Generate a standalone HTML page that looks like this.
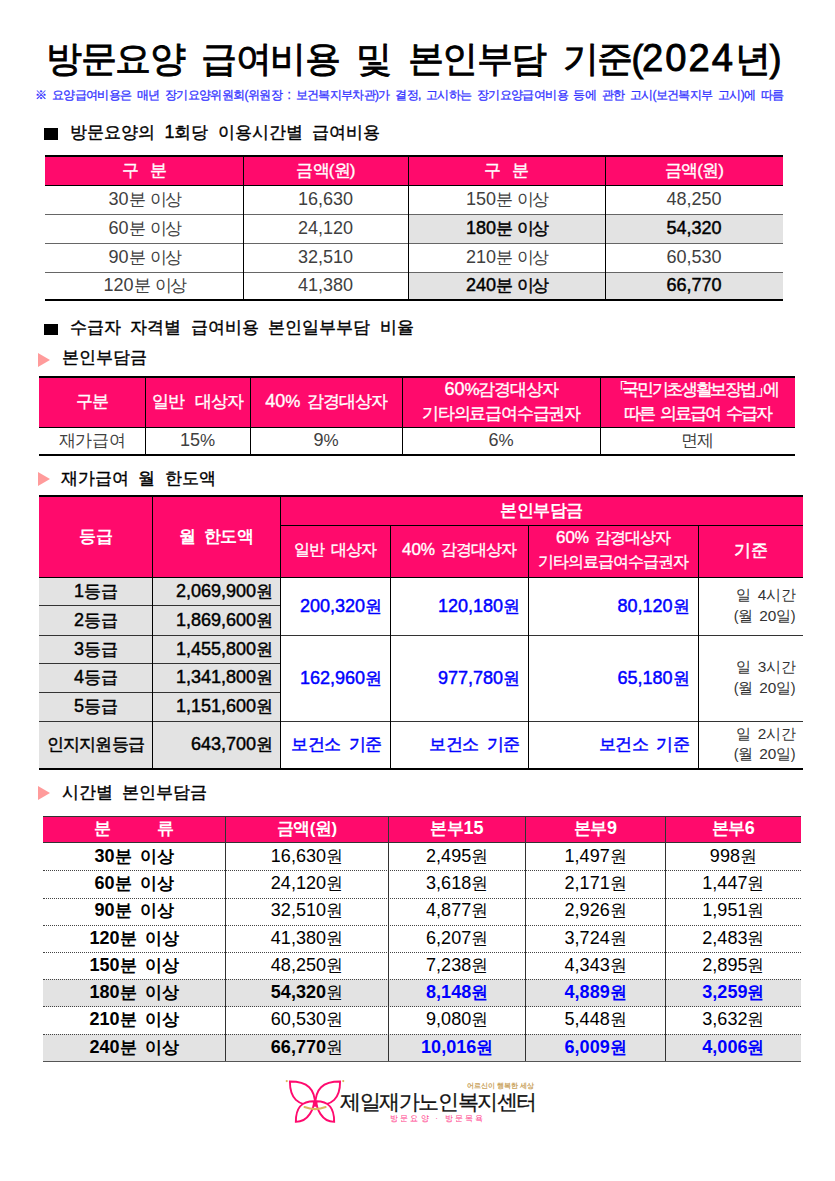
<!DOCTYPE html>
<html><head><meta charset="utf-8"><style>
html,body{margin:0;padding:0;background:#fff;width:835px;height:1181px;overflow:hidden}
body{position:relative;font-family:"Liberation Sans",sans-serif}
.r{position:absolute}
.t{position:absolute;white-space:nowrap}
.d{font-size:1.06em;letter-spacing:0}
</style></head><body>
<div class="t" style="left:46px;top:39.56px;width:789px;font-size:36px;line-height:36px;text-align:left;color:#000;letter-spacing:-1.5px;-webkit-text-stroke:0.9px #000">방문요양&nbsp; 급여비용&nbsp; 및&nbsp; 본인부담&nbsp; 기준(<span style="font-size:1.06em;letter-spacing:2px">2024</span>년)</div>
<div class="t" style="left:35px;top:89.02px;width:765px;font-size:12px;line-height:12px;text-align:left;color:#3333ff;letter-spacing:-0.63px;-webkit-text-stroke:0.3px #3333ff">※&nbsp; 요양급여비용은&nbsp; 매년&nbsp; 장기요양위원회(위원장&nbsp; :&nbsp; 보건복지부차관)가&nbsp; 결정,&nbsp; 고시하는&nbsp; 장기요양급여비용&nbsp; 등에&nbsp; 관한&nbsp; 고시(보건복지부&nbsp; 고시)에&nbsp; 따름</div>
<div class="r" style="left:44px;top:127.5px;width:13.5px;height:12.0px;background:#000"></div>
<div class="t" style="left:70px;top:124.32px;width:430px;font-size:17px;line-height:17px;text-align:left;color:#000;-webkit-text-stroke:0.4px #000">방문요양의&nbsp; <span class="d">1</span>회당&nbsp; 이용시간별&nbsp; 급여비용</div>
<div class="r" style="left:45px;top:157px;width:738px;height:28px;background:#ff0a6c"></div>
<div class="r" style="left:408px;top:214px;width:375px;height:29px;background:#e3e3e3"></div>
<div class="r" style="left:408px;top:272px;width:375px;height:28px;background:#e3e3e3"></div>
<div class="r" style="left:45px;top:155px;width:738px;height:2px;background:#000"></div>
<div class="r" style="left:45px;top:185px;width:738px;height:1px;background:#000"></div>
<div class="r" style="left:45px;top:214px;width:738px;height:1px;background:#666"></div>
<div class="r" style="left:45px;top:243px;width:738px;height:1px;background:#666"></div>
<div class="r" style="left:45px;top:272px;width:738px;height:1px;background:#666"></div>
<div class="r" style="left:45px;top:299px;width:738px;height:2px;background:#000"></div>
<div class="r" style="left:243px;top:157px;width:1px;height:143px;background:#000"></div>
<div class="r" style="left:408px;top:157px;width:1px;height:143px;background:#000"></div>
<div class="r" style="left:605px;top:157px;width:1px;height:143px;background:#000"></div>
<div class="t" style="left:45px;top:161.82px;width:198px;font-size:17px;line-height:17px;text-align:center;color:#fff;letter-spacing:-0.8px;-webkit-text-stroke:0.35px #fff">구&nbsp;&nbsp; 분</div>
<div class="t" style="left:243px;top:161.82px;width:165px;font-size:17px;line-height:17px;text-align:center;color:#fff;letter-spacing:-0.8px;-webkit-text-stroke:0.35px #fff">금액(원)</div>
<div class="t" style="left:408px;top:161.82px;width:197px;font-size:17px;line-height:17px;text-align:center;color:#fff;letter-spacing:-0.8px;-webkit-text-stroke:0.35px #fff">구&nbsp;&nbsp; 분</div>
<div class="t" style="left:605px;top:161.82px;width:178px;font-size:17px;line-height:17px;text-align:center;color:#fff;letter-spacing:-0.8px;-webkit-text-stroke:0.35px #fff">금액(원)</div>
<div class="t" style="left:45px;top:190.82px;width:198px;font-size:17px;line-height:17px;text-align:center;color:#404040;letter-spacing:-2px"><span class="d">30</span>분<span style="display:inline-block;width:6px"></span>이상</div>
<div class="t" style="left:243px;top:190.82px;width:165px;font-size:17px;line-height:17px;text-align:center;color:#404040;letter-spacing:-2px"><span class="d">16,630</span></div>
<div class="t" style="left:408px;top:190.82px;width:197px;font-size:17px;line-height:17px;text-align:center;color:#404040;letter-spacing:-2px"><span class="d">150</span>분<span style="display:inline-block;width:6px"></span>이상</div>
<div class="t" style="left:605px;top:190.82px;width:178px;font-size:17px;line-height:17px;text-align:center;color:#404040;letter-spacing:-2px"><span class="d">48,250</span></div>
<div class="t" style="left:45px;top:219.82px;width:198px;font-size:17px;line-height:17px;text-align:center;color:#404040;letter-spacing:-2px"><span class="d">60</span>분<span style="display:inline-block;width:6px"></span>이상</div>
<div class="t" style="left:243px;top:219.82px;width:165px;font-size:17px;line-height:17px;text-align:center;color:#404040;letter-spacing:-2px"><span class="d">24,120</span></div>
<div class="t" style="left:408px;top:219.82px;width:197px;font-size:17px;line-height:17px;text-align:center;color:#000;letter-spacing:-2px;-webkit-text-stroke:0.45px #000"><span class="d">180</span>분<span style="display:inline-block;width:6px"></span>이상</div>
<div class="t" style="left:605px;top:219.82px;width:178px;font-size:17px;line-height:17px;text-align:center;color:#000;letter-spacing:-2px;-webkit-text-stroke:0.45px #000"><span class="d">54,320</span></div>
<div class="t" style="left:45px;top:248.82px;width:198px;font-size:17px;line-height:17px;text-align:center;color:#404040;letter-spacing:-2px"><span class="d">90</span>분<span style="display:inline-block;width:6px"></span>이상</div>
<div class="t" style="left:243px;top:248.82px;width:165px;font-size:17px;line-height:17px;text-align:center;color:#404040;letter-spacing:-2px"><span class="d">32,510</span></div>
<div class="t" style="left:408px;top:248.82px;width:197px;font-size:17px;line-height:17px;text-align:center;color:#404040;letter-spacing:-2px"><span class="d">210</span>분<span style="display:inline-block;width:6px"></span>이상</div>
<div class="t" style="left:605px;top:248.82px;width:178px;font-size:17px;line-height:17px;text-align:center;color:#404040;letter-spacing:-2px"><span class="d">60,530</span></div>
<div class="t" style="left:45px;top:277.32px;width:198px;font-size:17px;line-height:17px;text-align:center;color:#404040;letter-spacing:-2px"><span class="d">120</span>분<span style="display:inline-block;width:6px"></span>이상</div>
<div class="t" style="left:243px;top:277.32px;width:165px;font-size:17px;line-height:17px;text-align:center;color:#404040;letter-spacing:-2px"><span class="d">41,380</span></div>
<div class="t" style="left:408px;top:277.32px;width:197px;font-size:17px;line-height:17px;text-align:center;color:#000;letter-spacing:-2px;-webkit-text-stroke:0.45px #000"><span class="d">240</span>분<span style="display:inline-block;width:6px"></span>이상</div>
<div class="t" style="left:605px;top:277.32px;width:178px;font-size:17px;line-height:17px;text-align:center;color:#000;letter-spacing:-2px;-webkit-text-stroke:0.45px #000"><span class="d">66,770</span></div>
<div class="r" style="left:44px;top:323.5px;width:13.5px;height:11.5px;background:#000"></div>
<div class="t" style="left:70px;top:319.32px;width:530px;font-size:17px;line-height:17px;text-align:left;color:#000;-webkit-text-stroke:0.4px #000">수급자&nbsp; 자격별&nbsp; 급여비용&nbsp; 본인일부부담&nbsp; 비율</div>
<svg class="r" style="left:38px;top:352.5px" width="13" height="14" viewBox="0 0 13 14"><polygon points="0,0 12,7 0,14" fill="#ff9b9b"/></svg>
<div class="t" style="left:62px;top:349.32px;width:338px;font-size:17px;line-height:17px;text-align:left;color:#000;-webkit-text-stroke:0.4px #000">본인부담금</div>
<div class="r" style="left:39px;top:378px;width:756px;height:49px;background:#ff0a6c"></div>
<div class="r" style="left:39px;top:376px;width:756px;height:2px;background:#000"></div>
<div class="r" style="left:39px;top:427px;width:756px;height:1px;background:#000"></div>
<div class="r" style="left:39px;top:454px;width:756px;height:2px;background:#000"></div>
<div class="r" style="left:145px;top:378px;width:1px;height:76px;background:#000"></div>
<div class="r" style="left:250px;top:378px;width:1px;height:76px;background:#000"></div>
<div class="r" style="left:402px;top:378px;width:1px;height:76px;background:#000"></div>
<div class="r" style="left:600px;top:378px;width:1px;height:76px;background:#000"></div>
<div class="t" style="left:39px;top:392.82px;width:106px;font-size:17px;line-height:17px;text-align:center;color:#fff;letter-spacing:-1px;-webkit-text-stroke:0.35px #fff">구분</div>
<div class="t" style="left:145px;top:392.82px;width:105px;font-size:17px;line-height:17px;text-align:center;color:#fff;letter-spacing:-1px;-webkit-text-stroke:0.35px #fff">일반&nbsp;&nbsp; 대상자</div>
<div class="t" style="left:250px;top:392.82px;width:152px;font-size:17px;line-height:17px;text-align:center;color:#fff;letter-spacing:-1px;-webkit-text-stroke:0.35px #fff"><span class="d">40</span>%&nbsp; 감경대상자</div>
<div class="t" style="left:402px;top:380.82px;width:198px;font-size:17px;line-height:17px;text-align:center;color:#fff;letter-spacing:-1.2px;-webkit-text-stroke:0.35px #fff"><span class="d">60</span>%감경대상자</div>
<div class="t" style="left:402px;top:404.82px;width:198px;font-size:17px;line-height:17px;text-align:center;color:#fff;letter-spacing:-1.2px;-webkit-text-stroke:0.35px #fff">기타의료급여수급권자</div>
<div class="t" style="left:600px;top:380.82px;width:195px;font-size:17px;line-height:17px;text-align:center;color:#fff;letter-spacing:-2.3px;-webkit-text-stroke:0.35px #fff;padding-right:1px;box-sizing:border-box"><span style="margin-left:-6px;letter-spacing:-5.5px">「</span>국민기초생활보장법<span style="letter-spacing:-9px">」</span>에</div>
<div class="t" style="left:600px;top:404.82px;width:195px;font-size:17px;line-height:17px;text-align:center;color:#fff;letter-spacing:-1.9px;-webkit-text-stroke:0.35px #fff">따른&nbsp; 의료급여&nbsp; 수급자</div>
<div class="t" style="left:39px;top:431.82px;width:106px;font-size:17px;line-height:17px;text-align:center;color:#404040;letter-spacing:-0.3px">재가급여</div>
<div class="t" style="left:145px;top:431.82px;width:105px;font-size:17px;line-height:17px;text-align:center;color:#404040;letter-spacing:-0.3px"><span class="d">15</span>%</div>
<div class="t" style="left:250px;top:431.82px;width:152px;font-size:17px;line-height:17px;text-align:center;color:#404040;letter-spacing:-0.3px"><span class="d">9</span>%</div>
<div class="t" style="left:402px;top:431.82px;width:198px;font-size:17px;line-height:17px;text-align:center;color:#404040;letter-spacing:-0.3px"><span class="d">6</span>%</div>
<div class="t" style="left:600px;top:431.82px;width:195px;font-size:17px;line-height:17px;text-align:center;color:#404040;letter-spacing:-0.3px">면제</div>
<svg class="r" style="left:38px;top:472px" width="13" height="14" viewBox="0 0 13 14"><polygon points="0,0 12,7 0,14" fill="#ff9b9b"/></svg>
<div class="t" style="left:61px;top:469.82px;width:339px;font-size:17px;line-height:17px;text-align:left;color:#000;-webkit-text-stroke:0.4px #000">재가급여&nbsp; 월&nbsp; 한도액</div>
<div class="r" style="left:39px;top:497px;width:764px;height:80px;background:#ff0a6c"></div>
<div class="r" style="left:39px;top:577px;width:241px;height:191px;background:#e3e3e3"></div>
<div class="r" style="left:39px;top:495px;width:764px;height:2px;background:#000"></div>
<div class="r" style="left:280px;top:525px;width:523px;height:1px;background:#000"></div>
<div class="r" style="left:39px;top:577px;width:764px;height:1px;background:#000"></div>
<div class="r" style="left:39px;top:605px;width:241px;height:1px;background:#333"></div>
<div class="r" style="left:39px;top:663px;width:241px;height:1px;background:#333"></div>
<div class="r" style="left:39px;top:692px;width:241px;height:1px;background:#333"></div>
<div class="r" style="left:39px;top:635px;width:764px;height:1px;background:#333"></div>
<div class="r" style="left:39px;top:721px;width:764px;height:1px;background:#333"></div>
<div class="r" style="left:39px;top:768px;width:764px;height:2px;background:#000"></div>
<div class="r" style="left:152px;top:497px;width:1px;height:271px;background:#000"></div>
<div class="r" style="left:280px;top:497px;width:1px;height:271px;background:#000"></div>
<div class="r" style="left:390px;top:526px;width:1px;height:242px;background:#000"></div>
<div class="r" style="left:528px;top:526px;width:1px;height:242px;background:#000"></div>
<div class="r" style="left:698px;top:526px;width:1px;height:242px;background:#000"></div>
<div class="t" style="left:39px;top:527.82px;width:113px;font-size:17px;line-height:17px;text-align:center;color:#fff;font-weight:bold;letter-spacing:-0.5px">등급</div>
<div class="t" style="left:152px;top:527.82px;width:128px;font-size:17px;line-height:17px;text-align:center;color:#fff;font-weight:bold;letter-spacing:-0.5px">월&nbsp; 한도액</div>
<div class="t" style="left:280px;top:501.82px;width:523px;font-size:17px;line-height:17px;text-align:center;color:#fff;font-weight:bold;letter-spacing:-0.5px">본인부담금</div>
<div class="t" style="left:280px;top:542.36px;width:110px;font-size:16px;line-height:16px;text-align:center;color:#fff;letter-spacing:-1px;-webkit-text-stroke:0.35px #fff">일반&nbsp; 대상자</div>
<div class="t" style="left:390px;top:542.36px;width:138px;font-size:16px;line-height:16px;text-align:center;color:#fff;letter-spacing:-1px;-webkit-text-stroke:0.35px #fff"><span class="d">40</span>%&nbsp; 감경대상자</div>
<div class="t" style="left:528px;top:530.36px;width:170px;font-size:16px;line-height:16px;text-align:center;color:#fff;letter-spacing:-1px;-webkit-text-stroke:0.35px #fff"><span class="d">60</span>%&nbsp; 감경대상자</div>
<div class="t" style="left:528px;top:554.36px;width:170px;font-size:16px;line-height:16px;text-align:center;color:#fff;letter-spacing:-1.1px;-webkit-text-stroke:0.35px #fff">기타의료급여수급권자</div>
<div class="t" style="left:698px;top:541.82px;width:105px;font-size:17px;line-height:17px;text-align:center;color:#fff;letter-spacing:-0.5px;-webkit-text-stroke:0.5px #fff">기준</div>
<div class="t" style="left:39px;top:582.82px;width:113px;font-size:17px;line-height:17px;text-align:center;color:#000;letter-spacing:-0.5px;-webkit-text-stroke:0.45px #000"><span class="d">1</span>등급</div>
<div class="t" style="left:152px;top:582.82px;width:128px;font-size:17px;line-height:17px;text-align:right;color:#000;letter-spacing:-0.1px;padding-right:7px;box-sizing:border-box;-webkit-text-stroke:0.45px #000"><span class="d">2,069,900</span>원</div>
<div class="t" style="left:39px;top:611.82px;width:113px;font-size:17px;line-height:17px;text-align:center;color:#000;letter-spacing:-0.5px;-webkit-text-stroke:0.45px #000"><span class="d">2</span>등급</div>
<div class="t" style="left:152px;top:611.82px;width:128px;font-size:17px;line-height:17px;text-align:right;color:#000;letter-spacing:-0.1px;padding-right:7px;box-sizing:border-box;-webkit-text-stroke:0.45px #000"><span class="d">1,869,600</span>원</div>
<div class="t" style="left:39px;top:640.82px;width:113px;font-size:17px;line-height:17px;text-align:center;color:#000;letter-spacing:-0.5px;-webkit-text-stroke:0.45px #000"><span class="d">3</span>등급</div>
<div class="t" style="left:152px;top:640.82px;width:128px;font-size:17px;line-height:17px;text-align:right;color:#000;letter-spacing:-0.1px;padding-right:7px;box-sizing:border-box;-webkit-text-stroke:0.45px #000"><span class="d">1,455,800</span>원</div>
<div class="t" style="left:39px;top:669.32px;width:113px;font-size:17px;line-height:17px;text-align:center;color:#000;letter-spacing:-0.5px;-webkit-text-stroke:0.45px #000"><span class="d">4</span>등급</div>
<div class="t" style="left:152px;top:669.32px;width:128px;font-size:17px;line-height:17px;text-align:right;color:#000;letter-spacing:-0.1px;padding-right:7px;box-sizing:border-box;-webkit-text-stroke:0.45px #000"><span class="d">1,341,800</span>원</div>
<div class="t" style="left:39px;top:698.32px;width:113px;font-size:17px;line-height:17px;text-align:center;color:#000;letter-spacing:-0.5px;-webkit-text-stroke:0.45px #000"><span class="d">5</span>등급</div>
<div class="t" style="left:152px;top:698.32px;width:128px;font-size:17px;line-height:17px;text-align:right;color:#000;letter-spacing:-0.1px;padding-right:7px;box-sizing:border-box;-webkit-text-stroke:0.45px #000"><span class="d">1,151,600</span>원</div>
<div class="t" style="left:39px;top:735.82px;width:113px;font-size:17px;line-height:17px;text-align:center;color:#000;letter-spacing:-0.8px;-webkit-text-stroke:0.45px #000">인지지원등급</div>
<div class="t" style="left:152px;top:735.82px;width:128px;font-size:17px;line-height:17px;text-align:right;color:#000;letter-spacing:-0.1px;padding-right:7px;box-sizing:border-box;-webkit-text-stroke:0.45px #000"><span class="d">643,700</span>원</div>
<div class="t" style="left:280.5px;top:597.82px;width:110.0px;font-size:17px;line-height:17px;text-align:right;color:#0000ff;letter-spacing:-0.6px;padding-right:9px;box-sizing:border-box;-webkit-text-stroke:0.45px #0000ff"><span class="d">200,320</span>원</div>
<div class="t" style="left:390.5px;top:597.82px;width:138.0px;font-size:17px;line-height:17px;text-align:right;color:#0000ff;letter-spacing:-0.6px;padding-right:9px;box-sizing:border-box;-webkit-text-stroke:0.45px #0000ff"><span class="d">120,180</span>원</div>
<div class="t" style="left:528.5px;top:597.82px;width:169.5px;font-size:17px;line-height:17px;text-align:right;color:#0000ff;letter-spacing:-0.6px;padding-right:9px;box-sizing:border-box;-webkit-text-stroke:0.45px #0000ff"><span class="d">80,120</span>원</div>
<div class="t" style="left:698px;top:588.17px;width:105px;font-size:14.5px;line-height:14.5px;text-align:right;color:#333;letter-spacing:-0.6px;padding-right:8px;box-sizing:border-box">일&nbsp; <span class="d">4</span>시간</div>
<div class="t" style="left:698px;top:608.67px;width:105px;font-size:14.5px;line-height:14.5px;text-align:right;color:#333;letter-spacing:-0.6px;padding-right:8px;box-sizing:border-box">(월&nbsp; <span class="d">20</span>일)</div>
<div class="t" style="left:280.5px;top:669.82px;width:110.0px;font-size:17px;line-height:17px;text-align:right;color:#0000ff;letter-spacing:-0.6px;padding-right:9px;box-sizing:border-box;-webkit-text-stroke:0.45px #0000ff"><span class="d">162,960</span>원</div>
<div class="t" style="left:390.5px;top:669.82px;width:138.0px;font-size:17px;line-height:17px;text-align:right;color:#0000ff;letter-spacing:-0.6px;padding-right:9px;box-sizing:border-box;-webkit-text-stroke:0.45px #0000ff"><span class="d">977,780</span>원</div>
<div class="t" style="left:528.5px;top:669.82px;width:169.5px;font-size:17px;line-height:17px;text-align:right;color:#0000ff;letter-spacing:-0.6px;padding-right:9px;box-sizing:border-box;-webkit-text-stroke:0.45px #0000ff"><span class="d">65,180</span>원</div>
<div class="t" style="left:698px;top:660.17px;width:105px;font-size:14.5px;line-height:14.5px;text-align:right;color:#333;letter-spacing:-0.6px;padding-right:8px;box-sizing:border-box">일&nbsp; <span class="d">3</span>시간</div>
<div class="t" style="left:698px;top:680.67px;width:105px;font-size:14.5px;line-height:14.5px;text-align:right;color:#333;letter-spacing:-0.6px;padding-right:8px;box-sizing:border-box">(월&nbsp; <span class="d">20</span>일)</div>
<div class="t" style="left:280.5px;top:736.32px;width:110.0px;font-size:17px;line-height:17px;text-align:right;color:#0000ff;letter-spacing:-0.6px;padding-right:9px;box-sizing:border-box;-webkit-text-stroke:0.45px #0000ff">보건소&nbsp; 기준</div>
<div class="t" style="left:390.5px;top:736.32px;width:138.0px;font-size:17px;line-height:17px;text-align:right;color:#0000ff;letter-spacing:-0.6px;padding-right:9px;box-sizing:border-box;-webkit-text-stroke:0.45px #0000ff">보건소&nbsp; 기준</div>
<div class="t" style="left:528.5px;top:736.32px;width:169.5px;font-size:17px;line-height:17px;text-align:right;color:#0000ff;letter-spacing:-0.6px;padding-right:9px;box-sizing:border-box;-webkit-text-stroke:0.45px #0000ff">보건소&nbsp; 기준</div>
<div class="t" style="left:698px;top:726.67px;width:105px;font-size:14.5px;line-height:14.5px;text-align:right;color:#333;letter-spacing:-0.6px;padding-right:8px;box-sizing:border-box">일&nbsp; <span class="d">2</span>시간</div>
<div class="t" style="left:698px;top:747.17px;width:105px;font-size:14.5px;line-height:14.5px;text-align:right;color:#333;letter-spacing:-0.6px;padding-right:8px;box-sizing:border-box">(월&nbsp; <span class="d">20</span>일)</div>
<svg class="r" style="left:38px;top:786px" width="13" height="14" viewBox="0 0 13 14"><polygon points="0,0 12,7 0,14" fill="#ff9b9b"/></svg>
<div class="t" style="left:62px;top:784.32px;width:338px;font-size:17px;line-height:17px;text-align:left;color:#000;-webkit-text-stroke:0.4px #000">시간별&nbsp; 본인부담금</div>
<div class="r" style="left:43px;top:816px;width:758px;height:27px;background:#ff0a6c"></div>
<div class="r" style="left:43px;top:979.25px;width:758px;height:27.25px;background:#e3e3e3"></div>
<div class="r" style="left:43px;top:1033.75px;width:758px;height:27.25px;background:#e3e3e3"></div>
<div class="r" style="left:43px;top:815.5px;width:758px;height:1.5px;background:#333"></div>
<div class="r" style="left:43px;top:842px;width:758px;height:1.2px;background:#333"></div>
<div class="r" style="left:43px;top:870px;width:758px;height:0;border-top:1px dotted #444"></div>
<div class="r" style="left:43px;top:898px;width:758px;height:0;border-top:1px dotted #444"></div>
<div class="r" style="left:43px;top:925px;width:758px;height:0;border-top:1px dotted #444"></div>
<div class="r" style="left:43px;top:952px;width:758px;height:0;border-top:1px dotted #444"></div>
<div class="r" style="left:43px;top:979px;width:758px;height:0;border-top:1px dotted #444"></div>
<div class="r" style="left:43px;top:1006px;width:758px;height:0;border-top:1px dotted #444"></div>
<div class="r" style="left:43px;top:1034px;width:758px;height:0;border-top:1px dotted #444"></div>
<div class="r" style="left:43px;top:1060.5px;width:758px;height:1.5px;background:#555"></div>
<div class="r" style="left:225px;top:816px;width:1.3px;height:245px;background:#333"></div>
<div class="r" style="left:388px;top:816px;width:1.3px;height:245px;background:#333"></div>
<div class="r" style="left:525px;top:816px;width:1.3px;height:245px;background:#333"></div>
<div class="r" style="left:665px;top:816px;width:1.3px;height:245px;background:#333"></div>
<div class="t" style="left:43px;top:820.32px;width:182px;font-size:17px;line-height:17px;text-align:center;color:#fff;font-weight:bold;letter-spacing:-0.5px">분&nbsp;&nbsp;&nbsp;&nbsp;&nbsp;&nbsp;&nbsp;&nbsp;&nbsp;&nbsp; 류</div>
<div class="t" style="left:225px;top:820.32px;width:163.5px;font-size:17px;line-height:17px;text-align:center;color:#fff;font-weight:bold;letter-spacing:-0.5px">금액(원)</div>
<div class="t" style="left:388.5px;top:820.32px;width:137.0px;font-size:17px;line-height:17px;text-align:center;color:#fff;font-weight:bold;letter-spacing:-0.5px">본부<span class="d">15</span></div>
<div class="t" style="left:525.5px;top:820.32px;width:140.0px;font-size:17px;line-height:17px;text-align:center;color:#fff;font-weight:bold;letter-spacing:-0.5px">본부<span class="d">9</span></div>
<div class="t" style="left:665.5px;top:820.32px;width:135.5px;font-size:17px;line-height:17px;text-align:center;color:#fff;font-weight:bold;letter-spacing:-0.5px">본부<span class="d">6</span></div>
<div class="t" style="left:43px;top:847.95px;width:182px;font-size:17px;line-height:17px;text-align:center;color:#000;font-weight:bold;letter-spacing:-0.3px"><span class="d">30</span>분&nbsp; 이상</div>
<div class="t" style="left:225px;top:847.95px;width:163.5px;font-size:17px;line-height:17px;text-align:center;color:#000;letter-spacing:-0.3px"><span class="d">16,630</span>원</div>
<div class="t" style="left:388.5px;top:847.95px;width:137.0px;font-size:17px;line-height:17px;text-align:center;color:#000;letter-spacing:-0.3px"><span class="d">2,495</span>원</div>
<div class="t" style="left:525.5px;top:847.95px;width:140.0px;font-size:17px;line-height:17px;text-align:center;color:#000;letter-spacing:-0.3px"><span class="d">1,497</span>원</div>
<div class="t" style="left:665.5px;top:847.95px;width:135.5px;font-size:17px;line-height:17px;text-align:center;color:#000;letter-spacing:-0.3px"><span class="d">998</span>원</div>
<div class="t" style="left:43px;top:875.20px;width:182px;font-size:17px;line-height:17px;text-align:center;color:#000;font-weight:bold;letter-spacing:-0.3px"><span class="d">60</span>분&nbsp; 이상</div>
<div class="t" style="left:225px;top:875.20px;width:163.5px;font-size:17px;line-height:17px;text-align:center;color:#000;letter-spacing:-0.3px"><span class="d">24,120</span>원</div>
<div class="t" style="left:388.5px;top:875.20px;width:137.0px;font-size:17px;line-height:17px;text-align:center;color:#000;letter-spacing:-0.3px"><span class="d">3,618</span>원</div>
<div class="t" style="left:525.5px;top:875.20px;width:140.0px;font-size:17px;line-height:17px;text-align:center;color:#000;letter-spacing:-0.3px"><span class="d">2,171</span>원</div>
<div class="t" style="left:665.5px;top:875.20px;width:135.5px;font-size:17px;line-height:17px;text-align:center;color:#000;letter-spacing:-0.3px"><span class="d">1,447</span>원</div>
<div class="t" style="left:43px;top:902.45px;width:182px;font-size:17px;line-height:17px;text-align:center;color:#000;font-weight:bold;letter-spacing:-0.3px"><span class="d">90</span>분&nbsp; 이상</div>
<div class="t" style="left:225px;top:902.45px;width:163.5px;font-size:17px;line-height:17px;text-align:center;color:#000;letter-spacing:-0.3px"><span class="d">32,510</span>원</div>
<div class="t" style="left:388.5px;top:902.45px;width:137.0px;font-size:17px;line-height:17px;text-align:center;color:#000;letter-spacing:-0.3px"><span class="d">4,877</span>원</div>
<div class="t" style="left:525.5px;top:902.45px;width:140.0px;font-size:17px;line-height:17px;text-align:center;color:#000;letter-spacing:-0.3px"><span class="d">2,926</span>원</div>
<div class="t" style="left:665.5px;top:902.45px;width:135.5px;font-size:17px;line-height:17px;text-align:center;color:#000;letter-spacing:-0.3px"><span class="d">1,951</span>원</div>
<div class="t" style="left:43px;top:929.70px;width:182px;font-size:17px;line-height:17px;text-align:center;color:#000;font-weight:bold;letter-spacing:-0.3px"><span class="d">120</span>분&nbsp; 이상</div>
<div class="t" style="left:225px;top:929.70px;width:163.5px;font-size:17px;line-height:17px;text-align:center;color:#000;letter-spacing:-0.3px"><span class="d">41,380</span>원</div>
<div class="t" style="left:388.5px;top:929.70px;width:137.0px;font-size:17px;line-height:17px;text-align:center;color:#000;letter-spacing:-0.3px"><span class="d">6,207</span>원</div>
<div class="t" style="left:525.5px;top:929.70px;width:140.0px;font-size:17px;line-height:17px;text-align:center;color:#000;letter-spacing:-0.3px"><span class="d">3,724</span>원</div>
<div class="t" style="left:665.5px;top:929.70px;width:135.5px;font-size:17px;line-height:17px;text-align:center;color:#000;letter-spacing:-0.3px"><span class="d">2,483</span>원</div>
<div class="t" style="left:43px;top:956.95px;width:182px;font-size:17px;line-height:17px;text-align:center;color:#000;font-weight:bold;letter-spacing:-0.3px"><span class="d">150</span>분&nbsp; 이상</div>
<div class="t" style="left:225px;top:956.95px;width:163.5px;font-size:17px;line-height:17px;text-align:center;color:#000;letter-spacing:-0.3px"><span class="d">48,250</span>원</div>
<div class="t" style="left:388.5px;top:956.95px;width:137.0px;font-size:17px;line-height:17px;text-align:center;color:#000;letter-spacing:-0.3px"><span class="d">7,238</span>원</div>
<div class="t" style="left:525.5px;top:956.95px;width:140.0px;font-size:17px;line-height:17px;text-align:center;color:#000;letter-spacing:-0.3px"><span class="d">4,343</span>원</div>
<div class="t" style="left:665.5px;top:956.95px;width:135.5px;font-size:17px;line-height:17px;text-align:center;color:#000;letter-spacing:-0.3px"><span class="d">2,895</span>원</div>
<div class="t" style="left:43px;top:984.20px;width:182px;font-size:17px;line-height:17px;text-align:center;color:#000;font-weight:bold;letter-spacing:-0.3px"><span class="d">180</span>분&nbsp; 이상</div>
<div class="t" style="left:225px;top:984.20px;width:163.5px;font-size:17px;line-height:17px;text-align:center;color:#000;letter-spacing:-0.3px"><b><span class="d">54,320</span></b>원</div>
<div class="t" style="left:388.5px;top:984.20px;width:137.0px;font-size:17px;line-height:17px;text-align:center;color:#0000ff;font-weight:bold;letter-spacing:-0.3px"><span class="d">8,148</span>원</div>
<div class="t" style="left:525.5px;top:984.20px;width:140.0px;font-size:17px;line-height:17px;text-align:center;color:#0000ff;font-weight:bold;letter-spacing:-0.3px"><span class="d">4,889</span>원</div>
<div class="t" style="left:665.5px;top:984.20px;width:135.5px;font-size:17px;line-height:17px;text-align:center;color:#0000ff;font-weight:bold;letter-spacing:-0.3px"><span class="d">3,259</span>원</div>
<div class="t" style="left:43px;top:1011.45px;width:182px;font-size:17px;line-height:17px;text-align:center;color:#000;font-weight:bold;letter-spacing:-0.3px"><span class="d">210</span>분&nbsp; 이상</div>
<div class="t" style="left:225px;top:1011.45px;width:163.5px;font-size:17px;line-height:17px;text-align:center;color:#000;letter-spacing:-0.3px"><span class="d">60,530</span>원</div>
<div class="t" style="left:388.5px;top:1011.45px;width:137.0px;font-size:17px;line-height:17px;text-align:center;color:#000;letter-spacing:-0.3px"><span class="d">9,080</span>원</div>
<div class="t" style="left:525.5px;top:1011.45px;width:140.0px;font-size:17px;line-height:17px;text-align:center;color:#000;letter-spacing:-0.3px"><span class="d">5,448</span>원</div>
<div class="t" style="left:665.5px;top:1011.45px;width:135.5px;font-size:17px;line-height:17px;text-align:center;color:#000;letter-spacing:-0.3px"><span class="d">3,632</span>원</div>
<div class="t" style="left:43px;top:1038.69px;width:182px;font-size:17px;line-height:17px;text-align:center;color:#000;font-weight:bold;letter-spacing:-0.3px"><span class="d">240</span>분&nbsp; 이상</div>
<div class="t" style="left:225px;top:1038.69px;width:163.5px;font-size:17px;line-height:17px;text-align:center;color:#000;letter-spacing:-0.3px"><b><span class="d">66,770</span></b>원</div>
<div class="t" style="left:388.5px;top:1038.69px;width:137.0px;font-size:17px;line-height:17px;text-align:center;color:#0000ff;font-weight:bold;letter-spacing:-0.3px"><span class="d">10,016</span>원</div>
<div class="t" style="left:525.5px;top:1038.69px;width:140.0px;font-size:17px;line-height:17px;text-align:center;color:#0000ff;font-weight:bold;letter-spacing:-0.3px"><span class="d">6,009</span>원</div>
<div class="t" style="left:665.5px;top:1038.69px;width:135.5px;font-size:17px;line-height:17px;text-align:center;color:#0000ff;font-weight:bold;letter-spacing:-0.3px"><span class="d">4,006</span>원</div>
<svg class="r" style="left:282px;top:1074px" width="66" height="54" viewBox="0 0 835 683">
<g fill="none" stroke="#ff0a6e" stroke-width="24">
<path d="M100,95 C100,308 196,400 420,400 C420,186 324,95 100,95 Z"/>
<path d="M735,95 C735,308 640,400 420,400 C420,186 514,95 735,95 Z"/>
</g>
<g fill="#fff" stroke="#ff0a6e" stroke-width="24">
<path d="M175,605 C175,423 247,345 405,345 C405,423 343,605 175,605 Z"/>
<path d="M660,605 C660,423 589,345 435,345 C435,423 495,605 660,605 Z"/>
</g>
<path d="M285,418 Q420,470 552,418" fill="none" stroke="#dcb75e" stroke-width="26" stroke-linecap="round"/>
<circle cx="60" cy="90" r="14" fill="#dcb75e"/><circle cx="775" cy="90" r="14" fill="#dcb75e"/>
</svg>
<div class="t" style="left:340px;top:1090.66px;width:200px;font-size:21px;line-height:21px;text-align:left;color:#111;letter-spacing:-1.4px;-webkit-text-stroke:0.3px #111">제일재가노인복지센터</div>
<div class="t" style="left:440px;top:1081.72px;width:100px;font-size:7px;line-height:7px;text-align:right;color:#c9a25a;font-weight:bold;padding-right:6px;box-sizing:border-box;font-family:"Liberation Serif",serif">어르신이 행복한 세상</div>
<div class="t" style="left:385px;top:1115.18px;width:115px;font-size:8px;line-height:8px;text-align:left;color:#ff3d8a;letter-spacing:2.2px;padding-left:5px;box-sizing:border-box">방문요양 · 방문목욕</div>
</body></html>
